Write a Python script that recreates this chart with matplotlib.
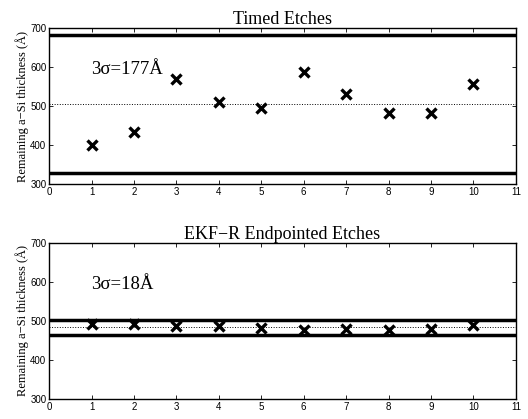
import numpy as np
import matplotlib.pyplot as plt

# datos
muestras = np.arange(1, 11)
timed = [400, 433, 570, 511, 494, 586, 532, 482, 482, 557]
timed_centro = 505
timed_3s = 177
ekf = [493, 492, 486, 486, 483, 477, 479, 478, 480, 490]
ekf_centro = 484
ekf_3s = 19

titulos = ['Timed Etches', 'EKF\u2212R Endpointed Etches']
etiquetas = ['3\u03c3=177\u00c5', '3\u03c3=18\u00c5']

fig = plt.figure(figsize=(5.28, 4.19), dpi=100)
posiciones = [[0.093, 0.561, 0.884, 0.372], [0.093, 0.048, 0.884, 0.372]]

series = [(timed, timed_centro, timed_3s), (ekf, ekf_centro, ekf_3s)]

for pos, (datos, centro, s3), titulo, etiqueta in zip(posiciones, series, titulos, etiquetas):
    ax = fig.add_axes(pos)
    ax.plot(muestras, datos, 'x', color='black', markersize=6.5, markeredgewidth=2.4)
    ax.axhline(centro, color='black', linestyle=':', linewidth=0.7)
    ax.axhline(centro + s3, color='black', linewidth=2.5)
    ax.axhline(centro - s3, color='black', linewidth=2.5)
    ax.set_xlim(0, 11)
    ax.set_ylim(300, 700)
    ax.set_xticks(range(0, 12))
    ax.set_yticks([300, 400, 500, 600, 700])
    ax.tick_params(direction='in', top=True, right=True, labelsize=7,
                   length=3, width=0.6, pad=2)
    for lbl in ax.get_xticklabels() + ax.get_yticklabels():
        lbl.set_family('Liberation Sans')
    for sp in ax.spines.values():
        sp.set_linewidth(1.0)
    ax.set_title(titulo, family='Liberation Serif', fontsize=13, pad=3)
    ax.set_ylabel('Remaining a\u2212Si thickness (\u00c5)', family='Liberation Serif',
                  fontsize=9, labelpad=1)
    ax.text(1.0, 582, etiqueta, family='Liberation Serif', fontsize=13.5)

plt.savefig('out.png', dpi=100)
